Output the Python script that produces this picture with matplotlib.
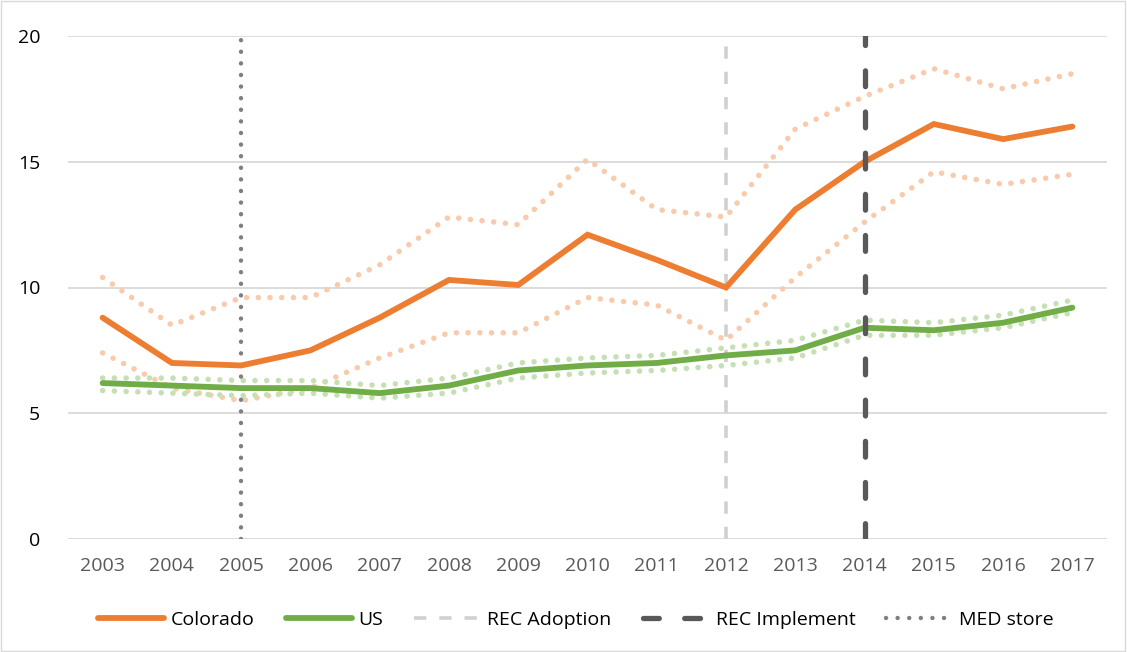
import matplotlib
matplotlib.use("Agg")
import matplotlib.pyplot as plt
from matplotlib.lines import Line2D
from matplotlib.patches import Rectangle

# data
years = list(range(2003, 2018))
colorado = [8.8, 7.0, 6.9, 7.5, 8.8, 10.3, 10.1, 12.1, 11.1, 10.0, 13.1, 15.0, 16.5, 15.9, 16.4]
colorado_hi = [10.4, 8.5, 9.6, 9.6, 10.9, 12.8, 12.5, 15.1, 13.1, 12.8, 16.3, 17.6, 18.7, 17.9, 18.5]
colorado_lo = [7.4, 6.0, 5.5, 6.0, 7.2, 8.2, 8.2, 9.6, 9.3, 7.9, 10.4, 12.6, 14.6, 14.1, 14.5]
us = [6.2, 6.1, 6.0, 6.0, 5.8, 6.1, 6.7, 6.9, 7.0, 7.3, 7.5, 8.4, 8.3, 8.6, 9.2]
us_hi = [6.4, 6.4, 6.3, 6.3, 6.1, 6.4, 7.0, 7.2, 7.3, 7.6, 7.9, 8.7, 8.6, 8.9, 9.5]
us_lo = [5.9, 5.8, 5.7, 5.8, 5.6, 5.8, 6.4, 6.6, 6.7, 6.9, 7.2, 8.1, 8.1, 8.4, 9.0]
med_store_year = 2005
rec_adoption_year = 2012
rec_implement_year = 2014
y_ticks = [0, 5, 10, 15, 20]

plt.rcParams["font.family"] = ["Open Sans", "DejaVu Sans"]

ORANGE = "#ED7D31"
GREEN = "#70AD47"
ORANGE_LIGHT = "#F8CBAD"
GREEN_LIGHT = "#C5E0B4"

fig = plt.figure(figsize=(11.27, 6.52), dpi=100)
ax = fig.add_axes([68 / 1127, 1 - 539 / 652, (1107 - 68) / 1127, (539 - 36) / 652])

x = list(range(len(years)))
dot = (0, (0.01, 2.1))

# confidence bands as dotted lines
ax.plot(x, colorado_hi, color=ORANGE_LIGHT, lw=4.0, ls=dot, dash_capstyle="round", zorder=2)
ax.plot(x, colorado_lo, color=ORANGE_LIGHT, lw=4.0, ls=dot, dash_capstyle="round", zorder=2)
ax.plot(x, us_hi, color=GREEN_LIGHT, lw=4.0, ls=dot, dash_capstyle="round", zorder=2)
ax.plot(x, us_lo, color=GREEN_LIGHT, lw=4.0, ls=dot, dash_capstyle="round", zorder=2)

# vertical event markers
med_style = dict(color="#7F7F7F", lw=3.2, ls=(0, (0.01, 2.6)), dash_capstyle="round")
adopt_style = dict(color="#D0D0D0", lw=2.6, ls=(0, (3.4, 3.6)), dash_capstyle="butt")
impl_style = dict(color="#595959", lw=3.8, ls=(0, (3, 4.8)), dash_capstyle="round")
ax.plot([years.index(med_store_year)] * 2, [0, 20], zorder=3, **med_style)
ax.plot([years.index(rec_adoption_year)] * 2, [0, 20], zorder=3, **adopt_style)
ax.plot([years.index(rec_implement_year)] * 2, [0, 20], zorder=5, **impl_style)

# main series
ax.plot(x, colorado, color=ORANGE, lw=4.2, solid_capstyle="round", solid_joinstyle="miter", zorder=4)
ax.plot(x, us, color=GREEN, lw=4.2, solid_capstyle="round", solid_joinstyle="miter", zorder=4)

ax.set_xlim(-0.5, len(years) - 0.5)
ax.set_ylim(0, 20)
ax.set_yticks(y_ticks)
ax.set_xticks(x)
ax.set_xticklabels([str(y) for y in years])
ax.grid(axis="y", color="#D9D9D9", lw=1.3)
ax.set_axisbelow(True)
for s in ax.spines.values():
    s.set_visible(False)
ax.tick_params(length=0, labelsize=14, colors="#595959")
ax.tick_params(axis="x", pad=13)
ax.tick_params(axis="y", pad=20, labelcolor="#000000")

handles = [
    Line2D([], [], color=ORANGE, lw=4.2, solid_capstyle="round"),
    Line2D([], [], color=GREEN, lw=4.2, solid_capstyle="round"),
    Line2D([], [], **adopt_style),
    Line2D([], [], **impl_style),
    Line2D([], [], **med_style),
]
labels = ["Colorado", "US", "REC Adoption", "REC Implement", "MED store"]
fig.legend(handles, labels, loc="center", bbox_to_anchor=(0.511, 1 - 620 / 652), ncol=5,
           frameon=False, fontsize=14, handlelength=3.4, columnspacing=1.6, handletextpad=0.35)

fig.patches.append(Rectangle((0.001, 0.001), 0.997, 0.997, transform=fig.transFigure,
                             fill=False, edgecolor="#D9D9D9", lw=1))

fig.savefig("out.png", dpi=100)
